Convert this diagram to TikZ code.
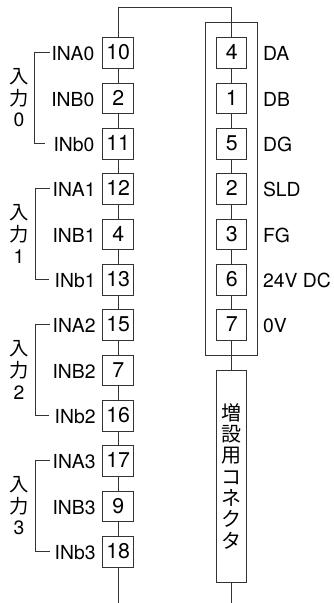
\documentclass[tikz,border=0pt]{standalone}
\usepackage{fontspec}
\setmainfont{TeX Gyre Heros}
\newfontfamily\cjk{Noto Sans CJK JP}
\definecolor{wire}{gray}{0.2}
\tikzset{
  px/.style={x=0.75pt,y=-0.75pt},
  wireline/.style={draw=wire,line width=0.75pt},
  pinbox/.style={draw=wire,line width=0.75pt,minimum width=22.9pt,minimum height=22.9pt,inner sep=0pt,
    font=\fontsize{16}{16}\selectfont,text height=9.8pt,text depth=0pt},
  lbl/.style={inner sep=0pt,font=\fontsize{14.5}{15}\selectfont,anchor=base east},
  rlbl/.style={inner sep=0pt,font=\fontsize{14.5}{15}\selectfont,anchor=base west},
  grp/.style={inner sep=0pt,align=center,font=\fontsize{14.5}{16.2}\selectfont},
}
\begin{document}
\begin{tikzpicture}[px]
\useasboundingbox (0,0) rectangle (334,603);
% left pins
\foreach \n [count=\i from 0] in {10,2,11,12,4,13,15,7,16,17,9,18}{
  \node[pinbox] (L\i) at (118.2,{53.2+45.33*\i}) {\n};
}
% right pins
\foreach \n [count=\i from 0] in {4,1,5,2,3,6,7}{
  \node[pinbox] (R\i) at (231.7,{53.2+45.33*\i}) {\n};
}
\node[draw=wire,line width=0.75pt,minimum width=22.9pt,minimum height=158.6pt,inner sep=0pt,align=center,
  font=\cjk\fontsize{15}{16}\selectfont] (conn) at (231.7,476.3)
  {増\\設\\用\\コ\\ネ\\ク\\タ};
\node[draw=wire,line width=0.75pt,minimum width=39.7pt,minimum height=249.4pt,inner sep=0pt] (outer) at (231.5,189.2) {};
% wires
\coordinate (top) at (175,7.5);
\coordinate (Lend) at (118.2,603);
\coordinate (Rend) at (231.7,603);
\draw[wireline] (L0.north) |- (top) -| (R0.north);
\foreach \a/\b in {0/1,1/2,2/3,3/4,4/5,5/6,6/7,7/8,8/9,9/10,10/11}{
  \draw[wireline] (L\a) -- (L\b);
}
\draw[wireline] (L11) -- (Lend);
\foreach \a/\b in {0/1,1/2,2/3,3/4,4/5,5/6}{
  \draw[wireline] (R\a) -- (R\b);
}
\draw[wireline] (R6) -- (conn);
\draw[wireline] (conn) -- (Rend);
% left labels
\foreach \s/\g/\lx/\bx/\ex in {0/0/94.6/34.5/45,1/3/95.8/35.4/48.5,2/6/95.8/35.4/48.5,3/9/95.8/35.4/49.5}{
  \pgfmathtruncatemacro{\rb}{\g+1}
  \pgfmathtruncatemacro{\rc}{\g+2}
  \node[lbl] (a\s) at (\lx,{60.8+45.33*\g}) {INA\s};
  \node[lbl] (b\s) at (\lx,{60.8+45.33*\rb}) {INB\s};
  \node[lbl] (c\s) at (\lx,{60.8+45.33*\rc}) {INb\s};
  \coordinate (ua\s) at (49.5,{52.5+45.33*\g});
  \coordinate (ub\s) at (\ex,{52.5+45.33*\rc});
  \coordinate (uc\s) at (\bx,{52.5+45.33*\g});
  \draw[wireline] (ua\s) -- (uc\s) |- (ub\s);
  \node[grp] (g\s) at (18.9,{98+45.33*\g}) {{\cjk 入}\\{\cjk 力}\\\s};
}
% right labels
\foreach \s [count=\i from 0] in {DA,DB,DG,SLD,FG,24V DC,0V}{
  \node[rlbl] (t\i) at (262.8,{60.8+45.33*\i}) {\s};
}
\end{tikzpicture}
\end{document}
